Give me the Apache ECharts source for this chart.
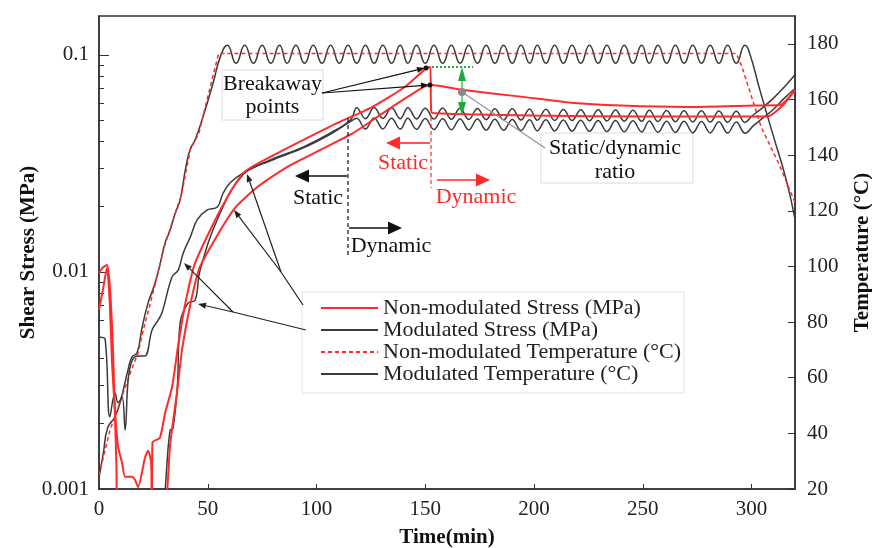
<!DOCTYPE html>
<html>
<head>
<meta charset="utf-8">
<script src="https://cdn.jsdelivr.net/npm/echarts@6/dist/echarts.min.js"></script>
<style>html,body{margin:0;padding:0;background:#fff;}#c{width:872px;height:548px;}</style>
</head>
<body>
<div id="c"></div>
<script>
// ---------------- DATA ----------------
const xTicks = [0, 50, 100, 150, 200, 250, 300];
const stressTicks = [0.001, 0.01, 0.1];
const stressMinorTicks = [0.002,0.003,0.004,0.005,0.006,0.007,0.008,0.009,0.02,0.03,0.04,0.05,0.06,0.07,0.08,0.09];
const tempTicks = [20, 40, 60, 80, 100, 120, 140, 160, 180];

// Non-modulated temperature (red dashed)
const nmTempT = [0, 5, 10, 15, 18, 20, 25, 30, 35, 38, 42, 44, 46, 50, 55, 293, 295.5, 304.5, 312.5, 320];
const nmTempV = [25, 41, 52, 63, 69, 76, 91, 107, 119, 126, 142, 145, 148, 161, 176.5, 176.5, 172, 150, 137, 123];

// Modulated temperature (black)
const mTempT = [0, 2, 4, 7.4, 10, 13.4, 15.2, 17.5, 19.8, 22.6, 24.9, 27.2, 30.4, 32.7, 35, 37.3, 40, 41.9, 44.2, 47.9, 52.5, 55.8,
  59, 63, 67, 71, 75, 79, 83, 86.5, 90.5, 94.5, 98.5, 102.5, 106.5, 110.5, 114.5, 118.5, 122.5, 126.5, 130.5, 134.5, 138.5, 142,
  146, 150, 154, 158, 162, 166, 170, 174, 178, 182, 186, 190, 194, 198, 201.5, 205.5, 209.5, 213.5, 217.5, 221.5, 225.5, 229.5,
  233.5, 237.5, 241.5, 245.5, 249.5, 253, 257, 261, 265, 269, 273, 277, 281, 285, 289, 293, 297,
  299, 304, 310, 316, 320];
const mTempV = [24, 33, 42, 46, 52, 63, 67.5, 69, 78, 87, 92, 98, 108.5, 113, 119, 124, 136, 142, 145.5, 154, 166, 175.4,
  179.5, 173, 179.5, 173, 179.5, 173, 179.5, 173, 179.5, 173, 179.5, 173, 179.5, 173, 179.5, 173, 179.5, 173, 179.5, 173, 179.5, 173,
  179.5, 173, 179.5, 173, 179.5, 173, 179.5, 173, 179.5, 173, 179.5, 173, 179.5, 173, 179.5, 173, 179.5, 173, 179.5, 173, 179.5, 173,
  179.5, 173, 179.5, 173, 179.5, 173, 179.5, 173, 179.5, 173, 179.5, 173, 179.5, 173, 179.5, 173, 179.5,
  177, 163, 147, 131, 117];

// Non-modulated stress, test A (upper, breakaway ~0.087)
const nmStressAT = [0, 1.5, 3.7, 5, 6.5, 8, 8.8, 24.2, 24.6, 28, 30.4, 33.6, 36.4, 39.6, 44.2, 55.8, 66.4, 78.8, 94, 109.7, 124.9, 140.1, 150.7, 152.3, 152.8, 155, 170, 200, 250, 307, 314, 320];
const nmStressAV = [0.0099, 0.0104, 0.0108, 0.0085, 0.0042, 0.0013, 0.0008, 0.0008, 0.00164, 0.00172, 0.00224, 0.00295, 0.0046, 0.0071, 0.011, 0.0193, 0.0286, 0.0339, 0.0406, 0.0486, 0.057, 0.0705, 0.0871, 0.088, 0.0545, 0.0538, 0.0532, 0.0525, 0.052, 0.052, 0.058, 0.069];

// Non-modulated stress, test B (lower, breakaway ~0.073)
const nmStressBT = [0, 2, 3.7, 5, 6, 7.4, 8.8, 10.6, 12, 15.2, 16.6, 18, 21.2, 22.6, 24, 24.4, 30, 32.7, 36, 38.2, 42, 46.5, 61.8, 72.8, 86.6, 101.8, 117, 132.7, 149.3, 152.5, 167.7, 194, 217, 240, 271, 301.4, 313, 320];
const nmStressBV = [0.0067, 0.0085, 0.0105, 0.007, 0.0038, 0.00224, 0.00156, 0.00132, 0.00114, 0.00114, 0.0011, 0.00102, 0.0014, 0.0015, 0.00132, 0.0008, 0.0008, 0.0016, 0.00286, 0.0044, 0.0071, 0.0106, 0.0193, 0.0246, 0.0305, 0.0365, 0.0437, 0.0558, 0.0712, 0.0726, 0.0688, 0.0642, 0.0602, 0.0584, 0.0575, 0.0584, 0.0587, 0.0688];

// Modulated stress, test 1
const mStress1T = [0.5, 2.8, 5, 7.4, 8.8, 10.6, 12, 13.4, 15.2, 18, 21, 24.4, 27.2, 29, 33.6, 36.4, 38.7, 42, 45.2, 49.8, 54.4, 57.1, 60.4, 66.4, 78.8, 94, 106.5, 115.7,
  118.5, 122.5, 126.5, 130.5, 134.5, 138.5, 142, 146, 150, 154, 158, 162, 166, 170, 174, 178, 182, 186, 190, 194, 198, 201.5, 205.5, 209.5, 213.5, 217.5, 221.5, 225.5, 229.5, 233.5, 237.5, 241.5, 245.5, 249.5, 253, 257, 261, 265, 269, 273, 277, 281, 285, 289, 293, 297,
  300, 305, 310, 315, 320];
const mStress1V = [0.005, 0.0049, 0.00215, 0.00277, 0.0025, 0.00265, 0.00187, 0.00318, 0.0039, 0.0041, 0.0041, 0.0054, 0.006, 0.0065, 0.0095, 0.0102, 0.0122, 0.0145, 0.0174, 0.0193, 0.0199, 0.0231, 0.0258, 0.0286, 0.0328, 0.0377, 0.0437, 0.0502,
  0.0570, 0.0508, 0.0572, 0.0510, 0.0570, 0.0508, 0.0571, 0.0507, 0.0568, 0.0506, 0.0569, 0.0505, 0.0567, 0.0504, 0.0566, 0.0503, 0.0565, 0.0502, 0.0564, 0.0501, 0.0563, 0.0500, 0.0562, 0.0499, 0.0560, 0.0498, 0.0559, 0.0497, 0.0558, 0.0496, 0.0557, 0.0495, 0.0556, 0.0494, 0.0555, 0.0493, 0.0554, 0.0492, 0.0553, 0.0491, 0.0552, 0.0490, 0.0551, 0.0489, 0.0550, 0.0488,
  0.052, 0.057, 0.063, 0.071, 0.081];

// Modulated stress, test 2
const mStress2T = [30, 31, 32.7, 34, 36, 37.3, 41, 44.2, 46.5, 55, 66.4, 78.8, 94, 106.5, 115.7,
  118.5, 122.5, 126.5, 130.5, 134.5, 138.5, 142, 146, 150, 154, 158, 162, 166, 170, 174, 178, 182, 186, 190, 194, 198, 201.5, 205.5, 209.5, 213.5, 217.5, 221.5, 225.5, 229.5, 233.5, 237.5, 241.5, 245.5, 249.5, 253, 257, 261, 265, 269, 273, 277, 281, 285, 289, 293, 297,
  301, 305, 310, 315, 320];
const mStress2V = [0.0008, 0.0012, 0.00187, 0.0019, 0.00295, 0.00582, 0.0072, 0.0074, 0.0102, 0.018, 0.0282, 0.0325, 0.0373, 0.0432, 0.0494,
  0.0510, 0.0455, 0.0512, 0.0456, 0.0511, 0.0455, 0.0510, 0.0454, 0.0509, 0.0453, 0.0508, 0.0452, 0.0507, 0.0451, 0.0506, 0.0450, 0.0505, 0.0449, 0.0504, 0.0448, 0.0503, 0.0447, 0.0502, 0.0446, 0.0501, 0.0445, 0.0500, 0.0444, 0.0499, 0.0443, 0.0498, 0.0442, 0.0497, 0.0441, 0.0496, 0.0440, 0.0495, 0.0439, 0.0494, 0.0438, 0.0493, 0.0437, 0.0492, 0.0436, 0.0491, 0.0435,
  0.0473, 0.051, 0.056, 0.063, 0.070];

const NAME_NMS = 'Non-modulated Stress (MPa)';
const NAME_MS = 'Modulated Stress (MPa)';
const NAME_NMT = 'Non-modulated Temperature (°C)';
const NAME_MT = 'Modulated Temperature (°C)';

// ---------------- STYLE ----------------
const FONT = "'Liberation Serif', 'Times New Roman', serif";
const AX = '#333';
const RED = '#ff2a2a';
const BLK = '#3a3a3a';
function zip(t, v) { return t.map((x, i) => [x, v[i]]); }

function arrow(x1, y1, x2, y2, color, w, hl, hw) {
  const a = Math.atan2(y2 - y1, x2 - x1);
  const bx = x2 - hl * Math.cos(a), by = y2 - hl * Math.sin(a);
  const px = -Math.sin(a) * hw / 2, py = Math.cos(a) * hw / 2;
  return [
    { type: 'line', z: 100, shape: { x1: x1, y1: y1, x2: bx, y2: by }, style: { stroke: color, lineWidth: w } },
    { type: 'polygon', z: 100, shape: { points: [[x2, y2], [bx + px, by + py], [bx - px, by - py]] }, style: { fill: color } }
  ];
}
function txt(x, y, s, color, size) {
  return { type: 'text', z: 100, x: x, y: y, style: { text: s, fill: color, font: size + 'px ' + FONT, align: 'center', verticalAlign: 'middle', textAlign: 'center', textVerticalAlign: 'middle' } };
}
function seg(x1, y1, x2, y2, color, w, dash) {
  return { type: 'line', z: 100, shape: { x1: x1, y1: y1, x2: x2, y2: y2 }, style: { stroke: color, lineWidth: w, lineDash: dash || null } };
}
function box(x, y, w, h) {
  return { type: 'rect', z: 0, shape: { x: x, y: y, width: w, height: h }, style: { fill: '#fff', stroke: '#dcdcdc', lineWidth: 1 } };
}

const GREEN = '#1fa83f';
const graphics = [].concat(
  [box(222, 70, 101, 50), txt(272.5, 84, 'Breakaway', '#111', 22), txt(272.5, 107, 'points', '#111', 22)],
  arrow(322, 93, 425, 68, '#111', 1.2, 8, 6),
  arrow(322, 93, 429, 85, '#111', 1.2, 8, 6),
  [{ type: 'circle', z: 101, shape: { cx: 426, cy: 68, r: 2.5 }, style: { fill: '#111' } },
   { type: 'circle', z: 101, shape: { cx: 430, cy: 85, r: 2.5 }, style: { fill: '#111' } }],
  [seg(348, 118, 348, 257, '#111', 1.2, [4, 3])],
  arrow(347, 176, 295, 176, '#111', 1.6, 14, 13),
  [txt(318, 198, 'Static', '#111', 22)],
  arrow(349, 228, 402, 228, '#111', 1.6, 14, 13),
  [txt(391, 246, 'Dynamic', '#111', 22)],
  [seg(431, 117, 431, 188, RED, 1.2, [4, 3])],
  arrow(430, 143, 386, 143, RED, 1.6, 14, 13),
  [txt(403, 163, 'Static', RED, 22)],
  arrow(437, 180, 490, 180, RED, 1.6, 14, 13),
  [txt(476, 197, 'Dynamic', RED, 22)],
  [seg(432, 67, 473, 67, GREEN, 2, [2, 2])],
  arrow(462, 92, 462, 67, GREEN, 1.2, 14, 8),
  arrow(462, 92, 462, 116, GREEN, 1.2, 14, 8),
  [seg(462, 92, 545, 148, '#9a9a9a', 1.5)],
  [{ type: 'circle', z: 101, shape: { cx: 462, cy: 92, r: 4 }, style: { fill: '#8a8a8a' } }],
  [box(541, 133, 152, 50), txt(615, 148, 'Static/dynamic', '#111', 22), txt(615, 172, 'ratio', '#111', 22)],
  [seg(303, 305, 281, 272, '#222', 1.2)],
  arrow(281, 272, 247, 174, '#222', 1.2, 8, 6),
  arrow(281, 272, 234, 210, '#222', 1.2, 8, 6),
  [seg(306, 330, 233, 312, '#222', 1.2)],
  arrow(233, 312, 184, 263, '#222', 1.2, 8, 6),
  arrow(233, 312, 198, 304, '#222', 1.2, 8, 6)
);

const chart = echarts.init(document.getElementById('c'), null, { renderer: 'canvas' });
const tickLabelStyle = { fontFamily: FONT, fontSize: 21, color: '#222' };
const nameStyle = { fontFamily: FONT, fontSize: 21, fontWeight: 'bold', color: '#111' };

chart.setOption({
  animation: false,
  backgroundColor: '#fff',
  grid: { left: 99, right: 77, top: 16, bottom: 59, containLabel: false, outerBoundsMode: 'none',
          show: true, borderColor: AX, borderWidth: 1.5, backgroundColor: 'transparent' },
  legend: {
    data: [NAME_NMS, NAME_MS, NAME_NMT, NAME_MT],
    orient: 'vertical', left: 302, top: 292,
    padding: [5, 3, 8, 18], itemGap: 0, itemWidth: 57, itemHeight: 14,
    backgroundColor: '#fff', borderColor: '#e2e2e2', borderWidth: 1,
    itemStyle: { opacity: 0 },
    textStyle: { fontFamily: FONT, fontSize: 22, color: '#222', lineHeight: 22 },
    selectedMode: false
  },
  xAxis: {
    type: 'value', min: 0, max: 320, interval: 50,
    name: 'Time(min)', nameLocation: 'middle', nameGap: 38, nameTextStyle: nameStyle,
    axisLine: { lineStyle: { color: AX, width: 1.5 } },
    axisTick: { inside: true, length: 5, lineStyle: { color: AX }, customValues: xTicks },
    axisLabel: { margin: 10, customValues: xTicks, ...tickLabelStyle },
    splitLine: { show: false }
  },
  yAxis: [
    {
      type: 'log', logBase: 10, min: 0.001, max: 0.151, position: 'left',
      name: 'Shear Stress (MPa)', nameLocation: 'middle', nameGap: 60, nameRotate: 90, nameMoveOverlap: false, nameTextStyle: nameStyle,
      axisLine: { show: true, lineStyle: { color: AX, width: 1.5 } },
      axisTick: { inside: true, length: 10, lineStyle: { color: AX }, customValues: stressTicks },
      axisLabel: { margin: 10, customValues: stressTicks, ...tickLabelStyle, formatter: v => String(v) },
      splitLine: { show: false }
    },
    {
      type: 'value', min: 20, max: 190, interval: 20, position: 'right',
      name: 'Temperature (°C)', nameLocation: 'middle', nameGap: 57, nameRotate: 90, nameTextStyle: nameStyle,
      axisLine: { show: true, lineStyle: { color: AX, width: 1.5 } },
      axisTick: { inside: true, length: 7, lineStyle: { color: AX }, customValues: tempTicks },
      axisLabel: { margin: 12, customValues: tempTicks, ...tickLabelStyle },
      splitLine: { show: false }
    },
    {
      type: 'log', logBase: 10, min: 0.001, max: 0.151, position: 'left',
      axisLine: { show: false },
      axisTick: { show: true, inside: true, length: 5, lineStyle: { color: AX }, customValues: stressMinorTicks },
      axisLabel: { show: false },
      splitLine: { show: false }
    }
  ],
  series: [
    { name: NAME_MT, type: 'line', yAxisIndex: 1, data: zip(mTempT, mTempV), symbol: 'none', smooth: 0.5,
      lineStyle: { color: BLK, width: 1.5 }, itemStyle: { color: BLK }, z: 2 },
    { name: NAME_NMT, type: 'line', yAxisIndex: 1, data: zip(nmTempT, nmTempV), symbol: 'none',
      lineStyle: { color: RED, width: 1.5, type: [4, 3] }, itemStyle: { color: RED }, z: 3 },
    { name: NAME_MS, type: 'line', yAxisIndex: 0, data: zip(mStress1T, mStress1V), symbol: 'none', smooth: 0.4,
      lineStyle: { color: BLK, width: 1.5 }, itemStyle: { color: BLK }, z: 4 },
    { name: NAME_MS, type: 'line', yAxisIndex: 0, data: zip(mStress2T, mStress2V), symbol: 'none', smooth: 0.4,
      lineStyle: { color: BLK, width: 1.5 }, itemStyle: { color: BLK }, z: 4 },
    { name: NAME_NMS, type: 'line', yAxisIndex: 0, data: zip(nmStressAT, nmStressAV), symbol: 'none', smooth: 0.2,
      lineStyle: { color: RED, width: 2 }, itemStyle: { color: RED }, z: 5 },
    { name: NAME_NMS, type: 'line', yAxisIndex: 0, data: zip(nmStressBT, nmStressBV), symbol: 'none', smooth: 0.2,
      lineStyle: { color: RED, width: 2 }, itemStyle: { color: RED }, z: 5 }
  ],
  graphic: graphics
});
</script>
</body>
</html>
